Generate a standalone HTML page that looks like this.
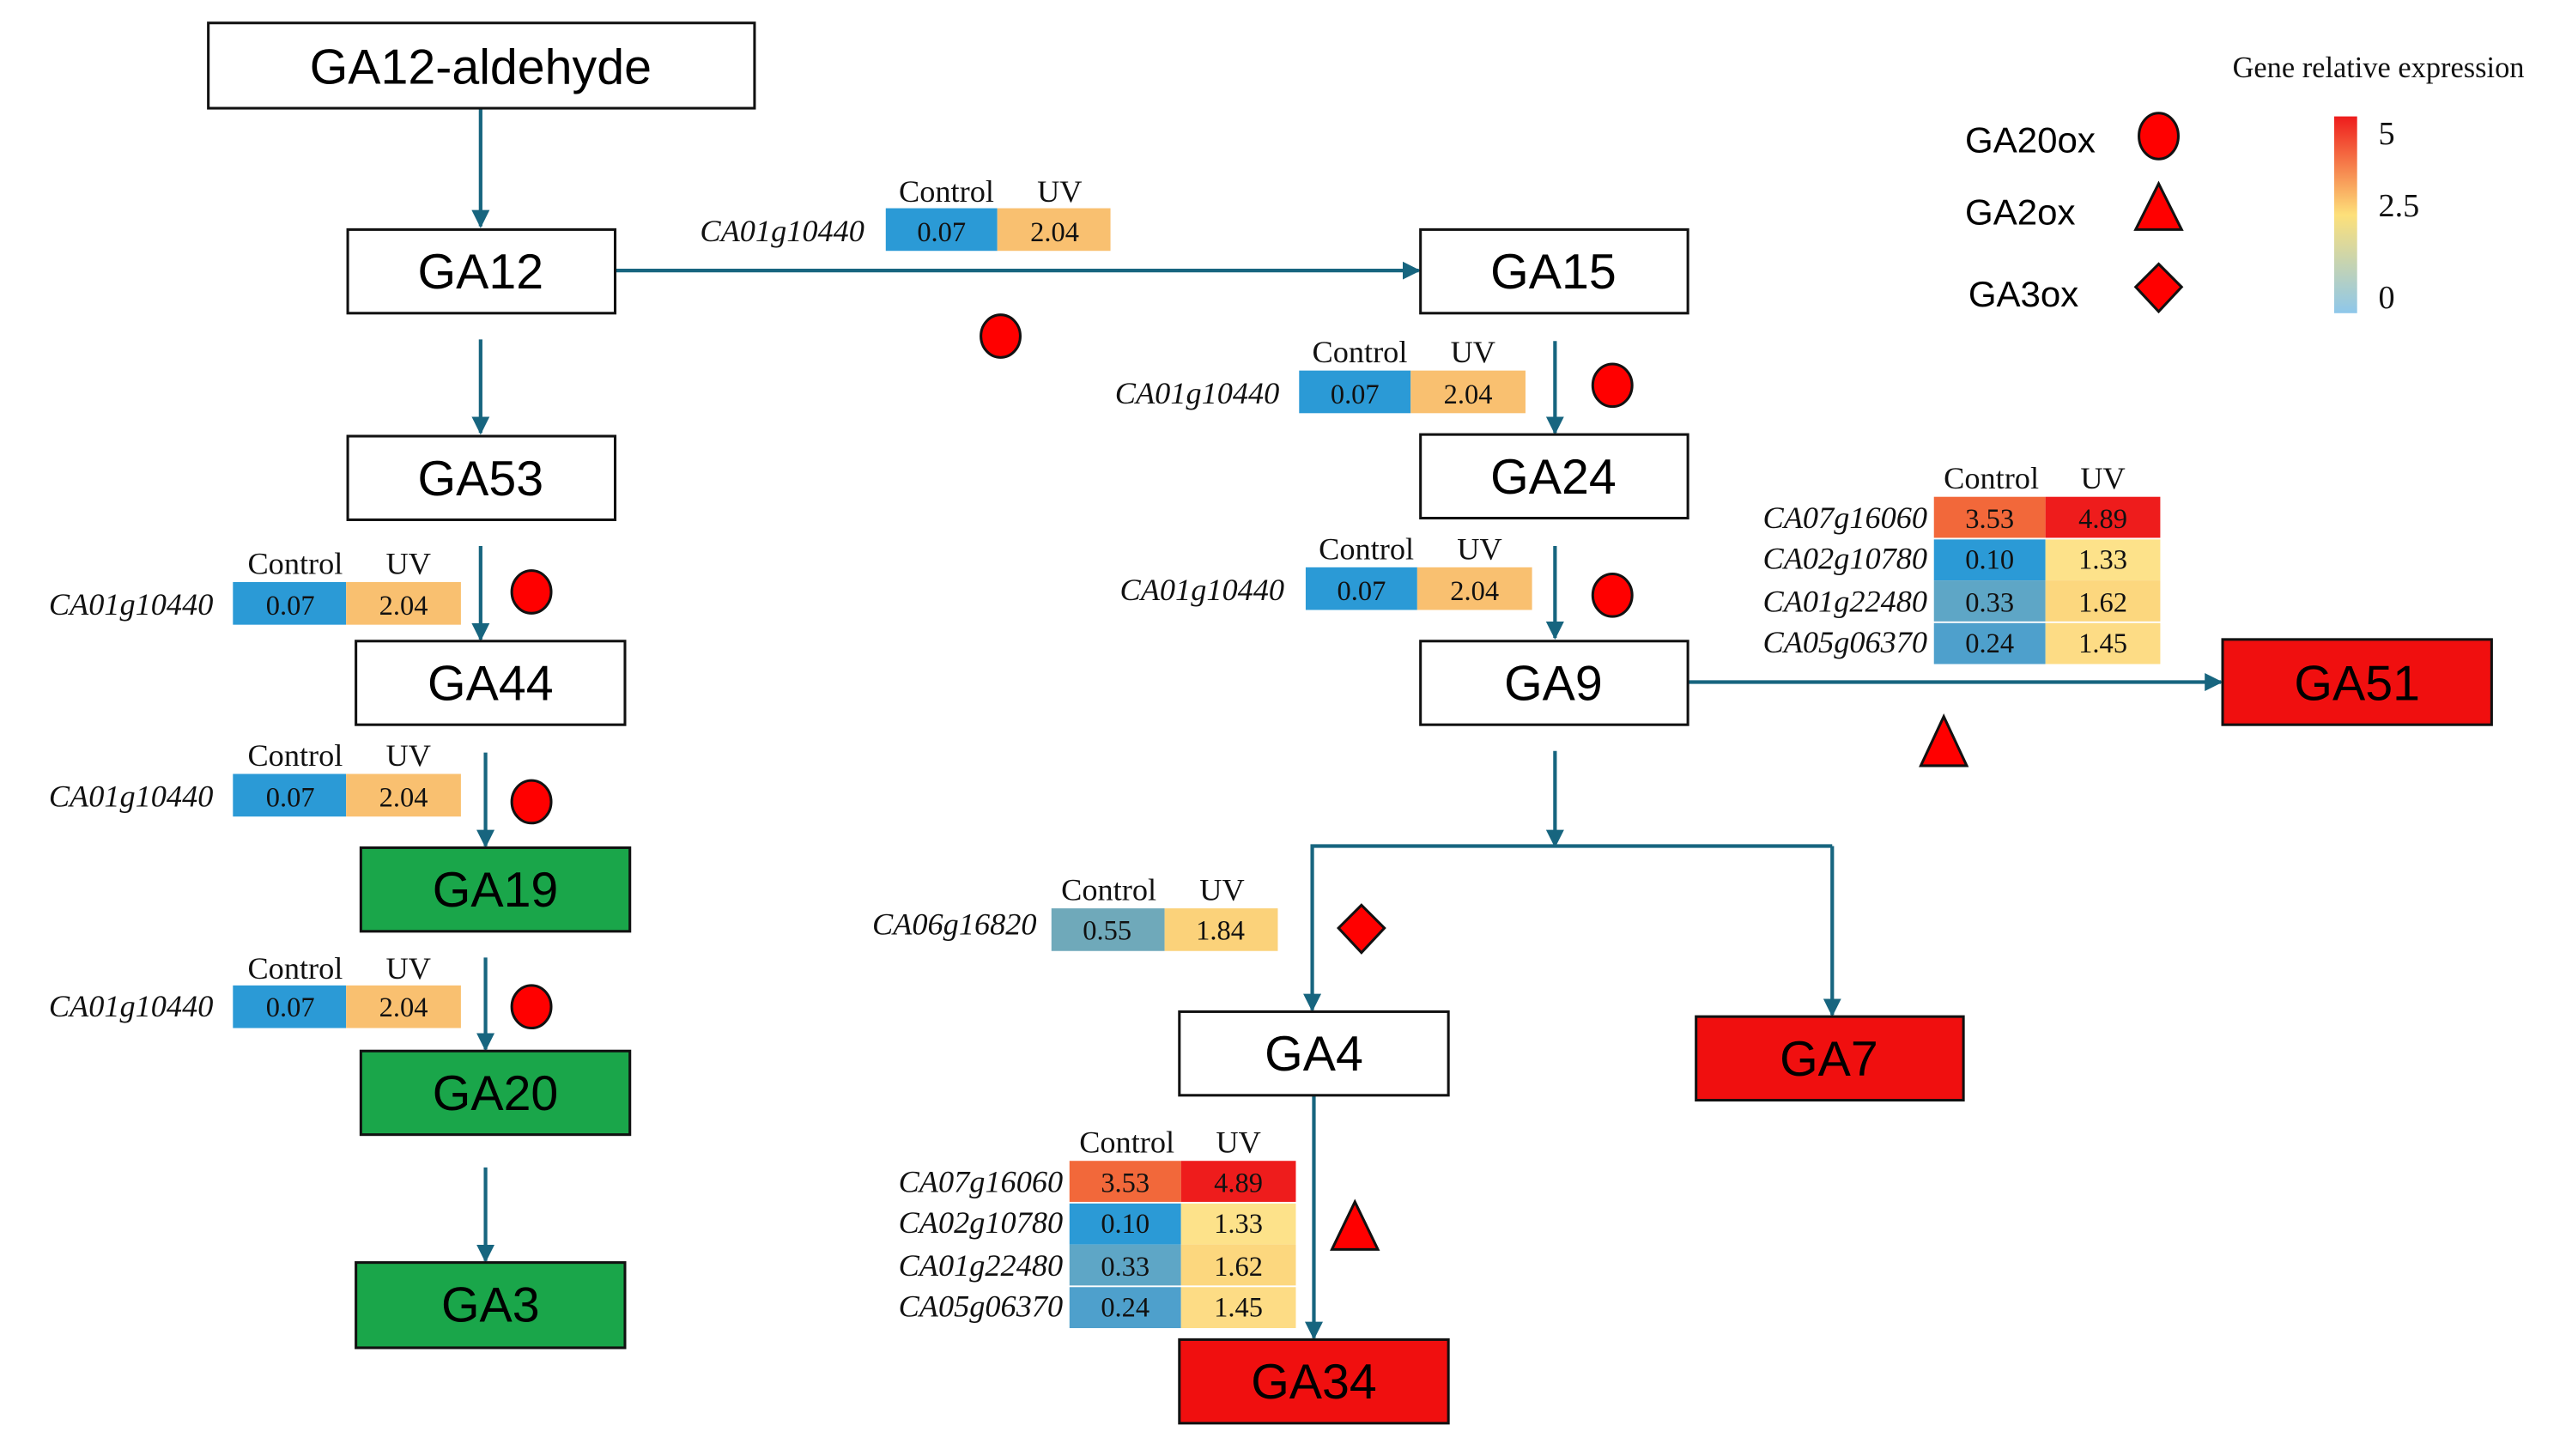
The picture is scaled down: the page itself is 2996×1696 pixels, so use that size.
<!DOCTYPE html>
<html><head><meta charset="utf-8"><style>html,body{margin:0;padding:0;background:#fff;}svg{display:block}</style></head>
<body>
<svg width="2996" height="1696" viewBox="0 0 1568 888" preserveAspectRatio="none" xmlns="http://www.w3.org/2000/svg">
<defs>
<marker id="ar" viewBox="0 0 10 10" refX="9" refY="5" markerWidth="5" markerHeight="5" orient="auto-start-reverse"><path d="M0,0 L10,5 L0,10 z" fill="#17657f"/></marker>
<linearGradient id="cb" x1="0" y1="0" x2="0" y2="1"><stop offset="0" stop-color="#ee1c1c"/><stop offset="0.5" stop-color="#fde07a"/><stop offset="1" stop-color="#8ec7ea"/></linearGradient>
</defs>
<g stroke="#17657f" stroke-width="2.2" fill="none" marker-end="url(#ar)">
<line x1="293" y1="66" x2="293" y2="138"/>
<line x1="293" y1="207" x2="293" y2="264"/>
<line x1="293" y1="333" x2="293" y2="390"/>
<line x1="296" y1="459" x2="296" y2="516"/>
<line x1="296" y1="584" x2="296" y2="640"/>
<line x1="296" y1="712" x2="296" y2="769"/>
<line x1="375" y1="165" x2="865" y2="165"/>
<line x1="948" y1="208" x2="948" y2="264"/>
<line x1="948" y1="333" x2="948" y2="389"/>
<line x1="1029" y1="416" x2="1354" y2="416"/>
<line x1="948" y1="458" x2="948" y2="516"/>
<line x1="801" y1="668" x2="801" y2="816"/>
<polyline points="1117,516 800,516 800,616"/>
<line x1="1117" y1="516" x2="1117" y2="619"/>
</g>
<g stroke="#111" stroke-width="1.6">
<rect x="127" y="14" width="333" height="52" fill="#fff"/>
<rect x="212" y="140" width="163" height="51" fill="#fff"/>
<rect x="212" y="266" width="163" height="51" fill="#fff"/>
<rect x="217" y="391" width="164" height="51" fill="#fff"/>
<rect x="220" y="517" width="164" height="51" fill="#1aa64a"/>
<rect x="220" y="641" width="164" height="51" fill="#1aa64a"/>
<rect x="217" y="770" width="164" height="52" fill="#1aa64a"/>
<rect x="866" y="140" width="163" height="51" fill="#fff"/>
<rect x="866" y="265" width="163" height="51" fill="#fff"/>
<rect x="866" y="391" width="163" height="51" fill="#fff"/>
<rect x="1355" y="390" width="164" height="52" fill="#f00f0f"/>
<rect x="719" y="617" width="164" height="51" fill="#fff"/>
<rect x="1034" y="620" width="163" height="51" fill="#f00f0f"/>
<rect x="719" y="817" width="164" height="51" fill="#f00f0f"/>
</g>
<g font-family="Liberation Sans, sans-serif" font-size="30" text-anchor="middle" fill="#000">
<text x="293" y="51">GA12-aldehyde</text>
<text x="293" y="176">GA12</text>
<text x="293" y="302">GA53</text>
<text x="299" y="427">GA44</text>
<text x="302" y="553">GA19</text>
<text x="302" y="677">GA20</text>
<text x="299" y="806">GA3</text>
<text x="947" y="176">GA15</text>
<text x="947" y="301">GA24</text>
<text x="947" y="427">GA9</text>
<text x="1437" y="427">GA51</text>
<text x="801" y="653">GA4</text>
<text x="1115" y="656">GA7</text>
<text x="801" y="853">GA34</text>
</g>
<g font-family="Liberation Serif, serif" font-size="19" fill="#111">
<g>
<text x="527" y="147" text-anchor="end" font-style="italic">CA01g10440</text>
<rect x="540" y="127" width="68" height="26" fill="#2b9ad6"/><rect x="608" y="127" width="69" height="26" fill="#f9c070"/>
<text x="574" y="147" text-anchor="middle" font-size="17">0.07</text><text x="643" y="147" text-anchor="middle" font-size="17">2.04</text>
<text x="577" y="123" text-anchor="middle">Control</text><text x="646" y="123" text-anchor="middle">UV</text>
</g>
<g>
<text x="780" y="246" text-anchor="end" font-style="italic">CA01g10440</text>
<rect x="792" y="226" width="68" height="26" fill="#2b9ad6"/><rect x="860" y="226" width="70" height="26" fill="#f9c070"/>
<text x="826" y="246" text-anchor="middle" font-size="17">0.07</text><text x="895" y="246" text-anchor="middle" font-size="17">2.04</text>
<text x="829" y="221" text-anchor="middle">Control</text><text x="898" y="221" text-anchor="middle">UV</text>
</g>
<g>
<text x="783" y="366" text-anchor="end" font-style="italic">CA01g10440</text>
<rect x="796" y="346" width="68" height="26" fill="#2b9ad6"/><rect x="864" y="346" width="70" height="26" fill="#f9c070"/>
<text x="830" y="366" text-anchor="middle" font-size="17">0.07</text><text x="899" y="366" text-anchor="middle" font-size="17">2.04</text>
<text x="833" y="341" text-anchor="middle">Control</text><text x="902" y="341" text-anchor="middle">UV</text>
</g>
<g>
<text x="130" y="375" text-anchor="end" font-style="italic">CA01g10440</text>
<rect x="142" y="355" width="69" height="26" fill="#2b9ad6"/><rect x="211" y="355" width="70" height="26" fill="#f9c070"/>
<text x="177" y="375" text-anchor="middle" font-size="17">0.07</text><text x="246" y="375" text-anchor="middle" font-size="17">2.04</text>
<text x="180" y="350" text-anchor="middle">Control</text><text x="249" y="350" text-anchor="middle">UV</text>
</g>
<g>
<text x="130" y="492" text-anchor="end" font-style="italic">CA01g10440</text>
<rect x="142" y="472" width="69" height="26" fill="#2b9ad6"/><rect x="211" y="472" width="70" height="26" fill="#f9c070"/>
<text x="177" y="492" text-anchor="middle" font-size="17">0.07</text><text x="246" y="492" text-anchor="middle" font-size="17">2.04</text>
<text x="180" y="467" text-anchor="middle">Control</text><text x="249" y="467" text-anchor="middle">UV</text>
</g>
<g>
<text x="130" y="620" text-anchor="end" font-style="italic">CA01g10440</text>
<rect x="142" y="601" width="69" height="26" fill="#2b9ad6"/><rect x="211" y="601" width="70" height="26" fill="#f9c070"/>
<text x="177" y="620" text-anchor="middle" font-size="17">0.07</text><text x="246" y="620" text-anchor="middle" font-size="17">2.04</text>
<text x="180" y="597" text-anchor="middle">Control</text><text x="249" y="597" text-anchor="middle">UV</text>
</g>
<g>
<text x="632" y="570" text-anchor="end" font-style="italic">CA06g16820</text>
<rect x="641" y="554" width="69" height="26" fill="#6fa9ba"/><rect x="710" y="554" width="69" height="26" fill="#fbd27a"/>
<text x="675" y="573" text-anchor="middle" font-size="17">0.55</text><text x="744" y="573" text-anchor="middle" font-size="17">1.84</text>
<text x="676" y="549" text-anchor="middle">Control</text><text x="745" y="549" text-anchor="middle">UV</text>
</g>
<g>
<text x="1214" y="298" text-anchor="middle">Control</text><text x="1282" y="298" text-anchor="middle">UV</text>
<rect x="1179" y="303" width="68" height="25" fill="#f2683a"/><rect x="1247" y="303" width="70" height="25" fill="#ee1c1c"/>
<rect x="1179" y="329" width="68" height="25" fill="#2b9ad6"/><rect x="1247" y="329" width="70" height="25" fill="#fde28a"/>
<rect x="1179" y="354" width="68" height="25" fill="#5ea6c6"/><rect x="1247" y="354" width="70" height="25" fill="#fcd77e"/>
<rect x="1179" y="380" width="68" height="25" fill="#4ea0cc"/><rect x="1247" y="380" width="70" height="25" fill="#fddc85"/>
<g text-anchor="end" font-style="italic"><text x="1175" y="322">CA07g16060</text><text x="1175" y="347">CA02g10780</text><text x="1175" y="373">CA01g22480</text><text x="1175" y="398">CA05g06370</text></g>
<g text-anchor="middle" font-size="17"><text x="1213" y="322">3.53</text><text x="1282" y="322">4.89</text><text x="1213" y="347">0.10</text><text x="1282" y="347">1.33</text><text x="1213" y="373">0.33</text><text x="1282" y="373">1.62</text><text x="1213" y="398">0.24</text><text x="1282" y="398">1.45</text></g>
</g>
<g>
<text x="687" y="703" text-anchor="middle">Control</text><text x="755" y="703" text-anchor="middle">UV</text>
<rect x="652" y="708" width="68" height="25" fill="#f2683a"/><rect x="720" y="708" width="70" height="25" fill="#ee1c1c"/>
<rect x="652" y="734" width="68" height="25" fill="#2b9ad6"/><rect x="720" y="734" width="70" height="25" fill="#fde28a"/>
<rect x="652" y="759" width="68" height="25" fill="#5ea6c6"/><rect x="720" y="759" width="70" height="25" fill="#fcd77e"/>
<rect x="652" y="785" width="68" height="25" fill="#4ea0cc"/><rect x="720" y="785" width="70" height="25" fill="#fddc85"/>
<g text-anchor="end" font-style="italic"><text x="648" y="727">CA07g16060</text><text x="648" y="752">CA02g10780</text><text x="648" y="778">CA01g22480</text><text x="648" y="803">CA05g06370</text></g>
<g text-anchor="middle" font-size="17"><text x="686" y="727">3.53</text><text x="755" y="727">4.89</text><text x="686" y="752">0.10</text><text x="755" y="752">1.33</text><text x="686" y="778">0.33</text><text x="755" y="778">1.62</text><text x="686" y="803">0.24</text><text x="755" y="803">1.45</text></g>
</g>
<text x="1450" y="47" text-anchor="middle" font-size="18">Gene relative expression</text>
<rect x="1423" y="71" width="14" height="120" fill="url(#cb)"/>
<text x="1450" y="88" font-size="20">5</text><text x="1450" y="132" font-size="20">2.5</text><text x="1450" y="188" font-size="20">0</text>
</g>
<g font-family="Liberation Sans, sans-serif" font-size="22" fill="#000">
<text x="1198" y="93">GA20ox</text><text x="1198" y="137">GA2ox</text><text x="1200" y="187">GA3ox</text>
</g>
<g fill="#f00" stroke="#111" stroke-width="1.6">
<ellipse cx="1316" cy="83" rx="12" ry="14"/>
<polygon points="1316,112 1330,140 1302,140"/>
<polygon points="1316,161 1330,175 1316,190 1302,175"/>
<ellipse cx="610" cy="205" rx="12" ry="13"/>
<ellipse cx="983" cy="235" rx="12" ry="13"/>
<ellipse cx="983" cy="363" rx="12" ry="13"/>
<ellipse cx="324" cy="361" rx="12" ry="13"/>
<ellipse cx="324" cy="489" rx="12" ry="13"/>
<ellipse cx="324" cy="614" rx="12" ry="13"/>
<polygon points="1185,437 1199,467 1171,467"/>
<polygon points="826,733 840,762 812,762"/>
<polygon points="830,552 844,566 830,581 816,566"/>
</g>
</svg>
</body></html>
